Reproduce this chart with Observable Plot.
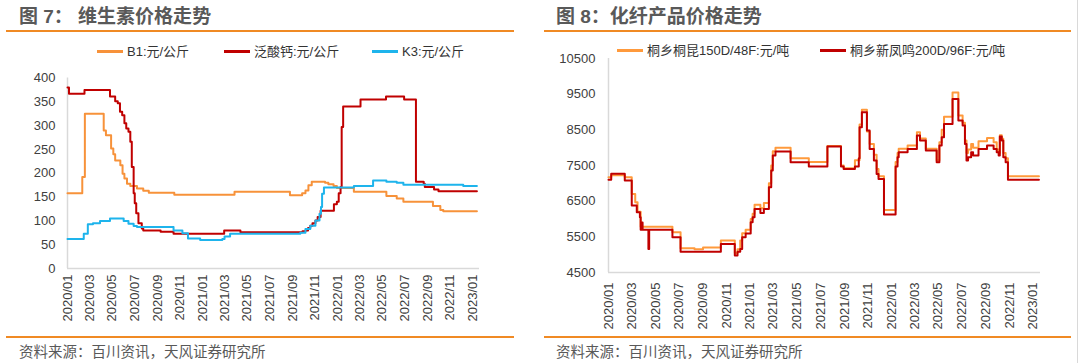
<!DOCTYPE html>
<html>
<head>
<meta charset="utf-8">
<script src="https://cdn.jsdelivr.net/npm/d3@7"></script>
<script src="https://cdn.jsdelivr.net/npm/@observablehq/plot@0.6"></script>
<style>
  html, body { margin: 0; padding: 0; background: #fff; }
  body { width: 1080px; height: 363px; position: relative; overflow: hidden;
         font-family: "Liberation Sans", Arial, "Noto Sans CJK SC", sans-serif; }
  .abs { position: absolute; }
  .title { font-size: 19px; font-weight: bold; color: #595959; white-space: nowrap; line-height: 1; }
  .rule { height: 2px; background: #f08a24; }
  .source { font-size: 14.5px; color: #595959; white-space: nowrap; line-height: 1; }
  .leg { font-size: 13px; color: #333; white-space: nowrap; line-height: 1; display: flex; align-items: center; }
  .sw { display: inline-block; width: 26px; height: 2.5px; margin-right: 4px; }
  svg { overflow: visible; }
</style>
</head>
<body>
<script>
// ---------------- Data: 图7 维生素价格走势 (元/公斤) ----------------
const b1Dates = ["2020-01-01","2020-02-10","2020-02-17","2020-04-08","2020-04-14","2020-04-28","2020-05-04","2020-05-09","2020-05-23","2020-05-29","2020-06-03","2020-06-10","2020-06-19","2020-07-07","2020-07-24","2020-08-08","2020-10-16","2021-03-28","2021-08-25","2021-09-27","2021-10-06","2021-10-14","2021-10-23","2021-11-28","2021-12-07","2021-12-21","2021-12-30","2022-02-14","2022-05-13","2022-06-10","2022-06-28","2022-09-16","2022-10-06","2022-10-14","2023-01-13"];
const b1Values = [158,192,325,290,280,252,240,227,217,199,189,178,173,168,163,159,155,161,154,158,164,175,182,180,177,173,169,161,152,147,140,131,123,120,120];

const panDates = ["2020-01-01","2020-01-05","2020-02-16","2020-04-25","2020-05-09","2020-05-16","2020-05-22","2020-05-28","2020-06-03","2020-06-08","2020-06-14","2020-06-19","2020-06-23","2020-06-28","2020-07-01","2020-07-05","2020-07-11","2020-07-20","2020-07-24","2020-09-09","2020-10-14","2021-02-28","2021-04-13","2021-09-28","2021-10-06","2021-10-13","2021-10-19","2021-10-25","2021-11-02","2021-11-08","2021-11-16","2021-12-22","2021-12-30","2022-01-04","2022-01-09","2022-01-12","2022-01-16","2022-03-04","2022-05-12","2022-06-30","2022-08-01","2022-08-22","2022-08-25","2022-09-19","2022-10-01","2023-01-13"];
const panValues = [380,367,375,361,351,347,329,322,305,294,287,266,213,158,137,116,95,84,80,77,73,80,76,78,80,85,90,95,101,108,121,135,140,158,171,297,340,355,361,355,182,178,171,166,162,162];

const k3Dates = ["2020-01-01","2020-02-14","2020-02-25","2020-03-10","2020-03-29","2020-04-25","2020-06-01","2020-06-14","2020-06-28","2020-07-07","2020-10-14","2020-11-07","2020-11-22","2020-12-25","2021-02-23","2021-03-01","2021-03-16","2021-09-22","2021-10-06","2021-10-19","2021-11-02","2021-11-13","2021-11-17","2021-11-20","2021-11-25","2022-02-14","2022-04-07","2022-05-13","2022-06-10","2022-06-28","2022-12-07","2023-01-13"];
const k3Values = [62,73,93,95,100,105,100,94,89,87,80,74,63,60,62,67,73,75,83,90,101,115,129,157,170,173,185,182,180,176,173,173];

const vitSeries = ["B1:元/公斤","泛酸钙:元/公斤","K3:元/公斤"];
const vitColors = ["#f7923a","#c00000","#1eb4ec"];
const vitYTicks = [0,50,100,150,200,250,300,350,400];

// ---------------- Data: 图8 化纤产品价格走势 (元/吨) ----------------
const tkDates = ["2020-01-01","2020-01-08","2020-02-12","2020-03-01","2020-03-10","2020-03-16","2020-03-24","2020-06-14","2020-07-05","2020-08-10","2020-09-01","2020-10-17","2020-11-22","2020-11-29","2020-12-06","2020-12-11","2020-12-20","2021-01-02","2021-01-07","2021-01-12","2021-01-27","2021-02-05","2021-02-18","2021-02-24","2021-02-28","2021-03-07","2021-04-15","2021-06-01","2021-07-19","2021-08-23","2021-08-30","2021-09-28","2021-10-10","2021-10-16","2021-10-29","2021-11-05","2021-11-16","2021-11-23","2021-11-28","2021-12-12","2022-01-11","2022-01-16","2022-01-19","2022-02-11","2022-03-07","2022-03-15","2022-03-30","2022-04-27","2022-05-04","2022-05-10","2022-05-16","2022-06-07","2022-06-22","2022-07-03","2022-07-09","2022-07-13","2022-07-17","2022-07-25","2022-07-30","2022-08-13","2022-09-04","2022-09-21","2022-09-29","2022-10-04","2022-10-07","2022-10-12","2022-10-16","2022-10-22","2022-10-28","2023-01-16"];
const tkValues = [7170,7230,7170,6700,6470,6200,5780,5630,5180,5150,5200,5400,5050,5150,5400,5600,5700,6000,6150,6400,6300,6450,7000,7500,7900,8000,7700,7600,8050,7500,7420,7650,8650,9060,8450,8100,7800,7400,7200,6250,7600,7850,7970,8060,8430,8260,7970,7650,8150,8500,8870,9550,8900,8700,8200,7850,7950,8100,8000,8180,8270,8150,7950,7850,8350,8250,7850,7700,7200,7200];

const xfmDates = ["2020-01-01","2020-01-08","2020-02-12","2020-03-01","2020-03-14","2020-03-22","2020-03-24","2020-03-26","2020-03-29","2020-04-13","2020-04-15","2020-06-14","2020-07-05","2020-10-17","2020-11-22","2020-11-29","2020-12-06","2020-12-11","2020-12-20","2021-01-02","2021-01-07","2021-01-12","2021-01-27","2021-02-05","2021-02-18","2021-02-24","2021-02-28","2021-03-07","2021-04-15","2021-06-01","2021-07-19","2021-08-23","2021-08-30","2021-09-28","2021-10-08","2021-10-10","2021-10-16","2021-10-29","2021-11-05","2021-11-16","2021-11-23","2021-11-28","2021-12-12","2022-01-11","2022-01-16","2022-01-19","2022-02-11","2022-03-07","2022-03-15","2022-03-30","2022-04-27","2022-05-04","2022-05-10","2022-05-16","2022-06-07","2022-06-22","2022-07-03","2022-07-09","2022-07-13","2022-07-17","2022-07-25","2022-07-30","2022-08-13","2022-09-04","2022-09-21","2022-09-29","2022-10-04","2022-10-07","2022-10-12","2022-10-16","2022-10-22","2022-10-28","2023-01-16"];
const xfmValues = [7100,7270,7080,6380,6190,6050,5700,5900,5700,5160,5700,5490,5080,5300,4980,5080,5160,5490,5590,5910,6050,6280,6170,6280,6890,7360,7780,7890,7590,7470,8030,7470,7400,7470,7700,8570,8990,8480,7965,7640,7265,7125,6125,7470,7730,7870,7965,8340,8200,7920,7590,8060,8290,8665,9365,8760,8620,8105,7640,7730,7870,7780,7965,8060,7965,7870,7780,8310,8200,7730,7590,7100,7100];

const fibSeries = ["桐乡桐昆150D/48F:元/吨","桐乡新凤鸣200D/96F:元/吨"];
const fibColors = ["#ff9a3c","#c00000"];
const fibYTicks = [4500,5500,6500,7500,8500,9500,10500];

// shared x ticks
const xTickDates = ["2020-01-01","2020-03-01","2020-05-01","2020-07-01","2020-09-01","2020-11-01","2021-01-01","2021-03-01","2021-05-01","2021-07-01","2021-09-01","2021-11-01","2022-01-01","2022-03-01","2022-05-01","2022-07-01","2022-09-01","2022-11-01","2023-01-01"];
const xDomain = ["2020-01-01","2023-01-20"];

// ---------------- Build ----------------
const parse = d3.utcParse("%Y-%m-%d");
const fmt = d3.utcFormat("%Y/%m");
const rows = (name, dates, values) => dates.map((d, i) => ({name, date: parse(d), value: values[i]}));
const font = '"Liberation Sans", Arial, "Noto Sans CJK SC", sans-serif';

function el(html) { const d = document.createElement("div"); d.innerHTML = html; return d.firstElementChild; }

function legend(names, colors, top, lefts) {
  names.forEach((n, i) => {
    document.body.appendChild(el(`<div class="abs leg" style="left:${lefts[i]}px;top:${top}px"><span class="sw" style="background:${colors[i]}"></span><span>${n}</span></div>`));
  });
}

// Static text
document.body.appendChild(el(`<div class="abs title" style="left:19px;top:7px">图 7：&nbsp;维生素价格走势</div>`));
document.body.appendChild(el(`<div class="abs rule" style="left:6px;top:29.5px;width:508px"></div>`));
document.body.appendChild(el(`<div class="abs title" style="left:556px;top:7px">图 8：化纤产品价格走势</div>`));
document.body.appendChild(el(`<div class="abs rule" style="left:544px;top:29.5px;width:527px"></div>`));
document.body.appendChild(el(`<div class="abs rule" style="left:6px;top:336px;width:508px"></div>`));
document.body.appendChild(el(`<div class="abs rule" style="left:544px;top:336px;width:527px"></div>`));
document.body.appendChild(el(`<div class="abs source" style="left:19px;top:345px">资料来源：百川资讯，天风证券研究所</div>`));
document.body.appendChild(el(`<div class="abs source" style="left:556px;top:345px">资料来源：百川资讯，天风证券研究所</div>`));
document.body.appendChild(el(`<div class="abs" style="left:1077px;top:0;width:1px;height:363px;background:#d9d9d9"></div>`));

legend(vitSeries, vitColors, 45, [97, 224, 372]);
legend(fibSeries, fibColors, 44, [617, 820]);

// Left chart
const vitData = [
  ...rows(vitSeries[0], b1Dates, b1Values),
  ...rows(vitSeries[1], panDates, panValues),
  ...rows(vitSeries[2], k3Dates, k3Values)
];
const xd = xDomain.map(parse);
const xt = xTickDates.map(parse);

const left = Plot.plot({
  width: 540, height: 270,
  marginLeft: 67, marginRight: 61, marginTop: 17.5, marginBottom: 62,
  style: {fontFamily: font, fontSize: "13px", color: "#404040", background: "transparent", overflow: "visible"},
  x: {type: "utc", domain: xd},
  y: {domain: [0, 400]},
  color: {domain: vitSeries, range: vitColors},
  marks: [
    Plot.ruleY([0], {stroke: "#d9d9d9", strokeWidth: 1.5}),
    Plot.ruleX([xd[0]], {stroke: "#d9d9d9", strokeWidth: 1.5}),
    Plot.axisY({ticks: vitYTicks, tickFormat: d3.format("d"), tickSize: 0, tickPadding: 12, label: null, fontSize: 13}),
    Plot.axisX({ticks: xt, tickFormat: fmt, tickRotate: -90, tickSize: 0, tickPadding: 6, label: null, fontSize: 13}),
    Plot.line(vitData, {x: "date", y: "value", z: "name", stroke: "name", curve: "step-after", strokeWidth: 2})
  ]
});
left.style.position = "absolute"; left.style.left = "0px"; left.style.top = "60px";
document.body.appendChild(left);

// Right chart
const fibData = [
  ...rows(fibSeries[0], tkDates, tkValues),
  ...rows(fibSeries[1], xfmDates, xfmValues)
];
const right = Plot.plot({
  width: 540, height: 290,
  marginLeft: 68, marginRight: 40, marginTop: 18, marginBottom: 58,
  style: {fontFamily: font, fontSize: "13px", color: "#404040", background: "transparent", overflow: "visible"},
  x: {type: "utc", domain: xd},
  y: {domain: [4500, 10500]},
  color: {domain: fibSeries, range: fibColors},
  marks: [
    Plot.ruleY([4500], {stroke: "#d9d9d9", strokeWidth: 1.5}),
    Plot.ruleX([xd[0]], {stroke: "#d9d9d9", strokeWidth: 1.5}),
    Plot.axisY({ticks: fibYTicks, tickFormat: d3.format("d"), tickSize: 0, tickPadding: 13, label: null, fontSize: 13}),
    Plot.axisX({ticks: xt, tickFormat: fmt, tickRotate: -90, tickSize: 0, tickPadding: 10, label: null, fontSize: 13}),
    Plot.line(fibData, {x: "date", y: "value", z: "name", stroke: "name", curve: "step-after", strokeWidth: 2})
  ]
});
right.style.position = "absolute"; right.style.left = "540px"; right.style.top = "40px";
document.body.appendChild(right);
</script>
</body>
</html>
